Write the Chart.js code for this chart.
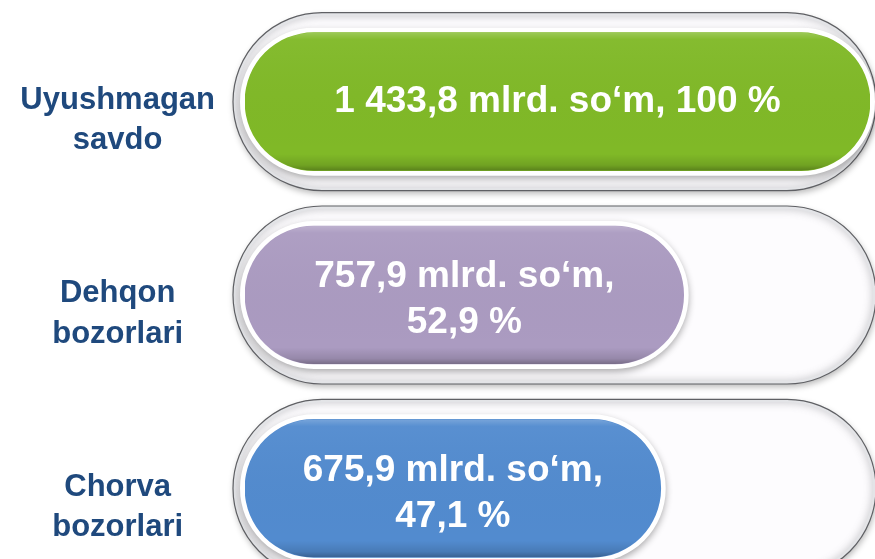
<!DOCTYPE html>
<html><head><meta charset="utf-8">
<script src="https://cdn.jsdelivr.net/npm/chart.js@4.4.1/dist/chart.umd.min.js"></script>
<style>
html,body{margin:0;padding:0;background:#fff;overflow:hidden;width:875px;height:559px}
#wrap{position:relative;width:875px;height:585px}
</style></head><body>
<div id="wrap"><canvas id="c"></canvas></div>
<script>
// ---- data ----
const categories = [["Uyushmagan", "savdo"], ["Dehqon", "bozorlari"], ["Chorva", "bozorlari"]];
const amountsMlrd = [1433.8, 757.9, 675.9];
const sharePct = [100, 52.9, 47.1];
const unitText = "mlrd. so‘m";
const barColors = ["#80b927", "#ab9bc1", "#528bcf"];

// ---- helpers ----
const FONT = '"Liberation Sans", Arial, Helvetica, sans-serif';
const AXIS_MIN = -58;
function fmt(v) {
  const s = Number.isInteger(v) ? String(v) : v.toFixed(1);
  const [i, d] = s.split('.');
  const ii = i.replace(/\B(?=(\d{3})+(?!\d))/g, ' ');
  return d ? ii + ',' + d : ii;
}
function capsule(ctx, x0, y0, x1, y1) {
  const r = (y1 - y0) / 2;
  ctx.beginPath();
  ctx.moveTo(x0 + r, y0);
  ctx.lineTo(x1 - r, y0);
  ctx.arc(x1 - r, y0 + r, r, -Math.PI / 2, Math.PI / 2);
  ctx.lineTo(x0 + r, y1);
  ctx.arc(x0 + r, y0 + r, r, Math.PI / 2, Math.PI * 1.5);
  ctx.closePath();
}

const decor = {
  id: 'decor',
  beforeDatasetsDraw(chart) {
    const ctx = chart.ctx;
    const meta = chart.getDatasetMeta(0);
    meta.data.forEach((bar) => {
      const h = bar.height;
      const tx0 = bar.base - 12, tx1 = chart.chartArea.right + 6;
      const ty0 = bar.y - h / 2 - 20, ty1 = bar.y + h / 2 + 20;
      // track with drop shadow
      ctx.save();
      ctx.shadowColor = 'rgba(0,0,0,0.28)';
      ctx.shadowBlur = 6; ctx.shadowOffsetY = 3; ctx.shadowOffsetX = 1;
      capsule(ctx, tx0, ty0, tx1, ty1);
      ctx.fillStyle = '#fdfcfe';
      ctx.fill();
      ctx.restore();
      // inner groove
      ctx.save();
      capsule(ctx, tx0, ty0, tx1, ty1);
      ctx.clip();
      ctx.shadowColor = 'rgba(110,112,118,0.45)';
      ctx.shadowBlur = 8;
      ctx.lineWidth = 6;
      ctx.strokeStyle = '#e3e4e7';
      capsule(ctx, tx0, ty0, tx1, ty1);
      ctx.stroke();
      ctx.restore();
      // border
      ctx.save();
      capsule(ctx, tx0, ty0, tx1, ty1);
      ctx.lineWidth = 1.2;
      ctx.strokeStyle = '#5f6064';
      ctx.stroke();
      ctx.restore();
      // white ring around bar
      ctx.save();
      ctx.shadowColor = 'rgba(0,0,0,0.32)';
      ctx.shadowBlur = 7; ctx.shadowOffsetY = 3;
      capsule(ctx, bar.base - 5, bar.y - h / 2 - 5, bar.x + 5, bar.y + h / 2 + 5);
      ctx.fillStyle = '#ffffff';
      ctx.fill();
      ctx.restore();
    });
  },
  afterDatasetsDraw(chart) {
    const ctx = chart.ctx;
    const meta = chart.getDatasetMeta(0);
    meta.data.forEach((bar, i) => {
      const h = bar.height;
      const y0 = bar.y - h / 2, y1 = bar.y + h / 2;
      // bevel overlay
      ctx.save();
      capsule(ctx, bar.base, y0, bar.x, y1);
      ctx.clip();
      const g = ctx.createLinearGradient(0, y0, 0, y1);
      g.addColorStop(0, 'rgba(255,255,255,0.22)');
      g.addColorStop(0.05, 'rgba(255,255,255,0.04)');
      g.addColorStop(0.88, 'rgba(0,0,0,0)');
      g.addColorStop(0.96, 'rgba(0,0,0,0.12)');
      g.addColorStop(1, 'rgba(0,0,0,0.30)');
      ctx.fillStyle = g;
      ctx.fillRect(bar.base, y0, bar.x - bar.base, h);
      ctx.restore();
      // value label
      ctx.save();
      ctx.font = 'bold 37px ' + FONT;
      ctx.fillStyle = '#ffffff';
      ctx.textAlign = 'center';
      ctx.textBaseline = 'middle';
      const a = fmt(amountsMlrd[i]) + ' ' + unitText + ',';
      const b = fmt(sharePct[i]) + ' %';
      const full = a + ' ' + b;
      const lines = ctx.measureText(full).width > (bar.x - bar.base) - 40 ? [a, b] : [full];
      const cx = (bar.base + bar.x) / 2;
      const lh = 46;
      const dy = lines.length > 1 ? 5 : 0;
      lines.forEach((t, k) => {
        ctx.fillText(t, cx, bar.y + dy + (k - (lines.length - 1) / 2) * lh);
      });
      ctx.restore();
    });
  }
};

new Chart(document.getElementById('c'), {
  type: 'bar',
  data: {
    labels: categories,
    datasets: [{
      data: sharePct,
      base: AXIS_MIN,
      backgroundColor: barColors,
      borderWidth: 0,
      borderRadius: 80,
      borderSkipped: false,
      barThickness: 138
    }]
  },
  options: {
    indexAxis: 'y',
    responsive: true,
    maintainAspectRatio: false,
    animation: false,
    layout: { padding: { left: 19, right: 5, top: 5, bottom: 0 } },
    plugins: { legend: { display: false }, tooltip: { enabled: false } },
    scales: {
      x: { display: false, min: AXIS_MIN, max: 100 },
      y: {
        grid: { display: false, drawTicks: false },
        border: { display: false },
        ticks: {
          color: '#1f497d',
          font: { family: FONT, size: 31, weight: 'bold', lineHeight: 1.3 },
          padding: 30,
          crossAlign: 'center',
          labelOffset: 19
        },
        afterFit(s) { s.paddingTop = 0; s.paddingBottom = 0; s.width = 226; }
      }
    }
  },
  plugins: [decor]
});
</script>
</body></html>
